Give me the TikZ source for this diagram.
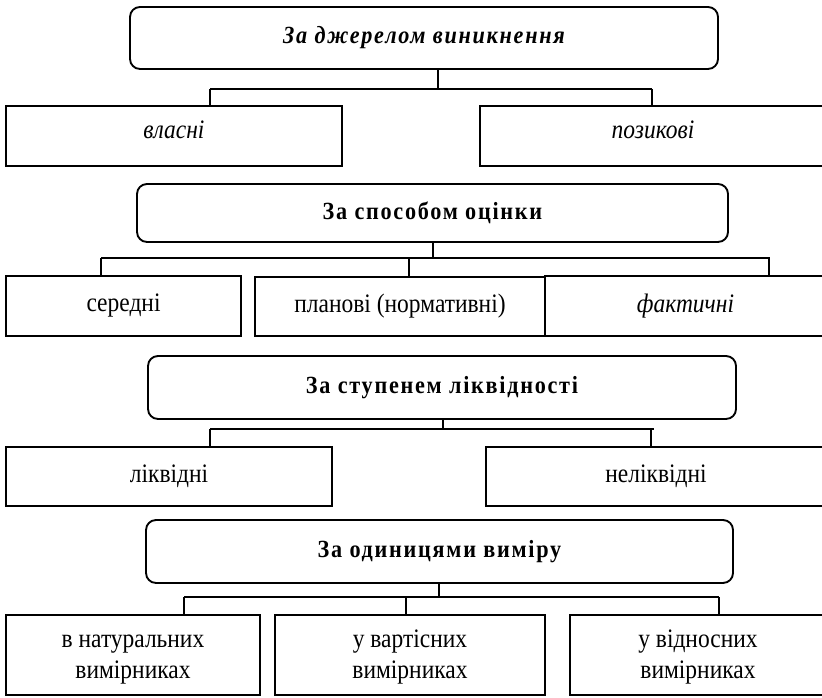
\documentclass[tikz,border=0pt]{standalone}
\usepackage{fontspec}
\setmainfont{Liberation Serif}[FakeStretch=0.88]
\newfontfamily\hdrfont{Liberation Serif}[FakeStretch=0.9, LetterSpace=7]
\begin{document}
\begin{tikzpicture}[x=0.75pt,y=-0.75pt,
  hdr/.style={draw, line width=1.4pt, rounded corners=7.5pt, inner sep=0pt, align=center,
    font=\hdrfont\fontsize{18.5}{21}\selectfont\bfseries},
  box/.style={draw, line width=1.4pt, inner sep=0pt, align=center,
    font=\fontsize{20}{23}\selectfont},
  conn/.style={draw, line width=1.1pt}]
\useasboundingbox (0,0) rectangle (822,698);
\clip (0,0) rectangle (822,698);
% Section 1
\node[hdr, minimum width=441pt, minimum height=46.5pt] (h1) at (424,38) {\itshape За джерелом виникнення};
\node[box, text depth=9pt, minimum width=252pt, minimum height=45pt] (a1) at (174,136) {\itshape власні};
\node[box, text depth=9pt, minimum width=259.5pt, minimum height=45pt] (a2) at (653,136) {\itshape позикові};
\coordinate (s1) at (438,89);
\coordinate (l1) at (210,89);
\coordinate (r1) at (652,89);
\draw[conn] (h1.south -| s1) -- (s1);
\draw[conn] (l1) -- (r1);
\draw[conn] (l1) -- (a1.north -| l1);
\draw[conn] (r1) -- (a2.north -| r1);
% Section 2
\node[hdr, minimum width=443.25pt, minimum height=43.5pt] (h2) at (432.5,213) {За способом оцінки};
\node[box, minimum width=176.25pt, minimum height=45pt] (b1) at (123.5,306) {середні};
\node[box, minimum width=217.5pt, minimum height=44.25pt] (b2) at (400,306.5) {планові (нормативні)};
\node[box, minimum width=210.75pt, minimum height=45pt] (b3) at (685.5,306) {\itshape фактичні};
\coordinate (s2) at (433,258);
\coordinate (l2) at (101,258);
\coordinate (m2) at (409,258);
\coordinate (r2) at (770,258);
\coordinate (q2) at (769,258);
\draw[conn] (h2.south -| s2) -- (s2);
\draw[conn] (l2) -- (r2);
\draw[conn] (l2) -- (b1.north -| l2);
\draw[conn] (m2) -- (b2.north -| m2);
\draw[conn] (q2) -- (b3.north -| q2);
% Section 3
\node[hdr, minimum width=441pt, minimum height=47.25pt] (h3) at (442,387.5) {За ступенем ліквідності};
\node[box, text depth=4pt, minimum width=244.5pt, minimum height=44.25pt] (c1) at (169,476.5) {ліквідні};
\node[box, text depth=4pt, minimum width=255pt, minimum height=44.25pt] (c2) at (656,476.5) {неліквідні};
\coordinate (s3) at (443,429);
\coordinate (l3) at (210,429);
\coordinate (r3) at (654,429);
\coordinate (q3) at (651,429);
\draw[conn] (h3.south -| s3) -- (s3);
\draw[conn] (l3) -- (r3);
\draw[conn] (l3) -- (c1.north -| l3);
\draw[conn] (q3) -- (c2.north -| q3);
% Section 4
\node[hdr, minimum width=440.25pt, minimum height=47.25pt] (h4) at (439.5,551.5) {За одиницями виміру};
\node[box, minimum width=190.5pt, minimum height=60pt] (d1) at (133,655) {\strut в натуральних\\вимірниках};
\node[box, minimum width=202.5pt, minimum height=60pt] (d2) at (410,655) {\strut у вартісних\\вимірниках};
\node[box, minimum width=192pt, minimum height=60pt] (d3) at (698,655) {\strut у відносних\\вимірниках};
\coordinate (s4) at (439,597);
\coordinate (l4) at (184,597);
\coordinate (m4) at (406,597);
\coordinate (r4) at (719,597);
\draw[conn] (h4.south -| s4) -- (s4);
\draw[conn] (l4) -- (r4);
\draw[conn] (l4) -- (d1.north -| l4);
\draw[conn] (m4) -- (d2.north -| m4);
\draw[conn] (r4) -- (d3.north -| r4);
\end{tikzpicture}
\end{document}
